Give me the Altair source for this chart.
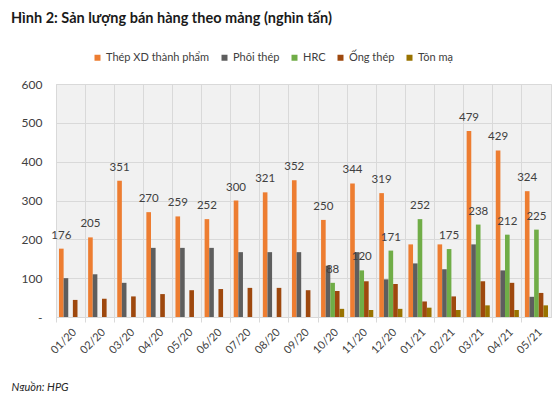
import altair as alt
import pandas as pd

months = ["01/20", "02/20", "03/20", "04/20", "05/20", "06/20", "07/20", "08/20", "09/20",
          "10/20", "11/20", "12/20", "01/21", "02/21", "03/21", "04/21", "05/21"]
series = ["Thép XD thành phẩm", "Phôi thép", "HRC", "Ống thép", "Tôn mạ"]
colors = ["#ED7D31", "#5E5E5E", "#70AD47", "#9E480E", "#997300"]

thep_xd = [176, 205, 351, 270, 259, 252, 300, 321, 352, 250, 344, 319, 187, 187, 479, 429, 324]
phoi_thep = [100, 110, 88, 178, 178, 178, 167, 167, 167, 132, 167, 97, 138, 123, 187, 120, 52]
hrc = [None, None, None, None, None, None, None, None, None, 88, 120, 171, 252, 175, 238, 212, 225]
ong_thep = [44, 47, 53, 59, 69, 72, 75, 75, 69, 67, 92, 85, 40, 53, 92, 88, 62]
ton_ma = [None, None, None, None, None, None, None, None, None, 21, 18, 21, 24, 18, 30, 18, 30]

labeled_series = ["Thép XD thành phẩm", "HRC"]
unlabeled = [("Thép XD thành phẩm", "01/21"), ("Thép XD thành phẩm", "02/21")]

rows = []
for s, vals in zip(series, [thep_xd, phoi_thep, hrc, ong_thep, ton_ma]):
    for m, v in zip(months, vals):
        if v is None:
            continue
        show = s in labeled_series and (s, m) not in unlabeled
        rows.append({"month": m, "series": s, "value": v, "label": str(v) if show else ""})
df = pd.DataFrame(rows)

W, H = 495, 233
FONT = "Lato"

x_enc = alt.X(
    "month:N", sort=months,
    scale=alt.Scale(paddingInner=0, paddingOuter=0),
    axis=alt.Axis(
        title="Nguồn: HPG", titleX=-45, titleY=70, titleAlign="left", titleAnchor="start",
        titleBaseline="middle", titleFontStyle="italic", titleFontWeight="normal",
        titleFontSize=11, titleColor="#262626", titleFont=FONT,
        bandPosition=0, labelAngle=-45, labelFontSize=11,
        labelColor="#404040", labelFont=FONT, labelPadding=4,
        grid=True, gridColor="#D9D9D9", domainColor="#D9D9D9", tickColor="#D9D9D9",
        tickSize=5),
)
xo_enc = alt.XOffset("series:N", sort=series,
                     scale=alt.Scale(domain=series, paddingInner=0, paddingOuter=0.65))
y_enc = alt.Y(
    "value:Q", scale=alt.Scale(domain=[0, 600], nice=False),
    axis=alt.Axis(title=None, values=[0, 100, 200, 300, 400, 500, 600], grid=True,
                  gridColor="#D9D9D9", domain=False, ticks=False, labelPadding=14,
                  labelFontSize=12, labelColor="#404040", labelFont=FONT,
                  labelExpr="datum.value == 0 ? '-' : datum.label"),
)
color_enc = alt.Color(
    "series:N", sort=series,
    scale=alt.Scale(domain=series, range=colors),
    legend=alt.Legend(title=None, orient="none", legendX=36, legendY=-32,
                      direction="horizontal", columns=5, symbolType="square",
                      symbolSize=36, symbolStrokeWidth=0, labelFontSize=11,
                      labelFont=FONT, labelColor="#404040", labelOffset=3,
                      columnPadding=9, padding=0),
)

bars = alt.Chart(df).mark_bar().encode(x=x_enc, xOffset=xo_enc, y=y_enc, color=color_enc)
labels = alt.Chart(df).transform_filter("datum.label != ''").mark_text(
    baseline="bottom", dy=-8, fontSize=11.5, color="#404040", font=FONT
).encode(x=x_enc, xOffset=xo_enc, y=y_enc, text="label:N")

chart = alt.layer(bars, labels).properties(
    width=W, height=H,
    autosize=alt.AutoSizeParams(type="none"),
    padding={"left": 48, "top": 76, "right": 1, "bottom": 74},
    title=alt.TitleParams(
        "Hình 2: Sản lượng bán hàng theo mảng (nghìn tấn)", anchor="start", frame="group",
        dx=-45, dy=-22, fontSize=14.5, font=FONT, fontWeight="bold", color="#1A1A1A"),
).configure_view(fill="#F1F1F1", stroke="#D9D9D9", strokeWidth=1)

chart.save("out.html", embed_options={"renderer": "svg", "actions": False})
